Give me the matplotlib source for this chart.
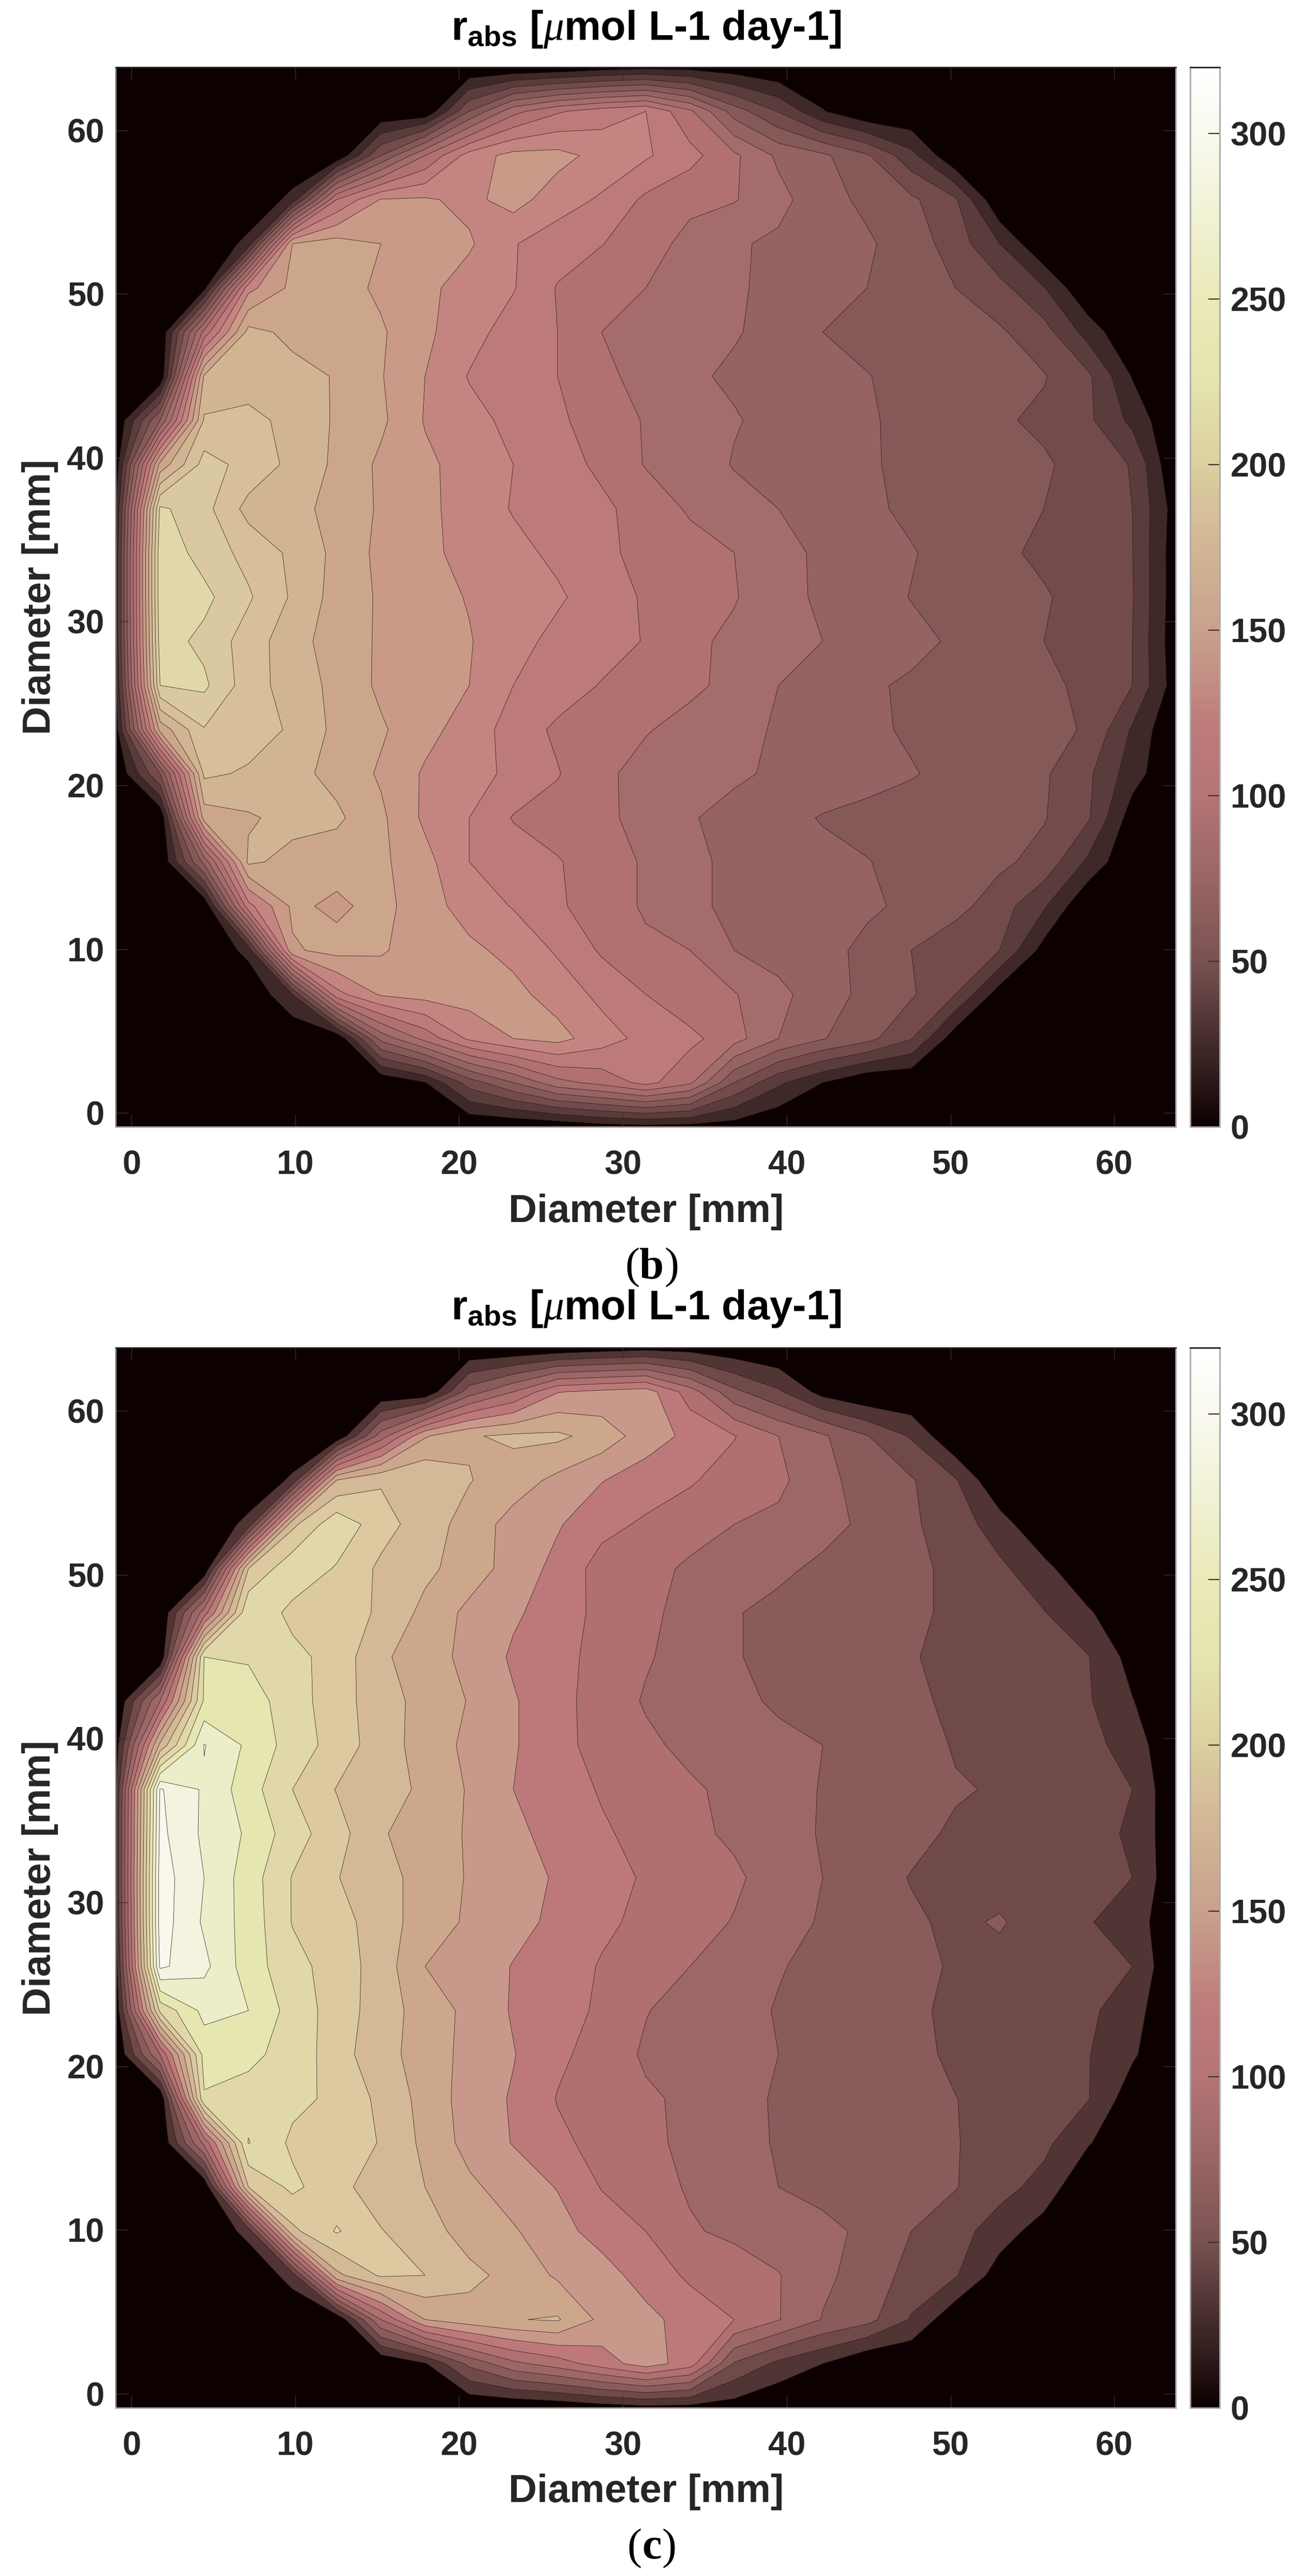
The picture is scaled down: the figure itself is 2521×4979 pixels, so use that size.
import numpy as np
import matplotlib
matplotlib.use("Agg")
import matplotlib.pyplot as plt
from matplotlib.colors import LinearSegmentedColormap, Normalize
from matplotlib.cm import ScalarMappable

W, H = 2521, 4979
DPI = 100
plt.rcParams['font.family'] = ['Liberation Sans', 'DejaVu Sans']
plt.rcParams['mathtext.fontset'] = 'custom'
plt.rcParams['mathtext.rm'] = 'Liberation Sans:bold'
plt.rcParams['mathtext.bf'] = 'Liberation Sans:bold'
plt.rcParams['mathtext.it'] = 'Liberation Serif:italic'
plt.rcParams['mathtext.default'] = 'regular'

# node coordinates of the measurement grid [mm]
GRID_X = [-0.95, 1.75, 4.44, 7.14, 9.83, 12.53, 15.23, 17.92, 20.62, 23.31, 26.01, 28.7, 31.4,
          34.1, 36.8, 39.5, 42.2, 44.9, 47.6, 50.3, 53.0, 55.7, 58.4, 61.1, 63.75]
GRID_Y = [-0.85, 1.85, 4.54, 7.24, 9.93, 12.63, 15.33, 18.02, 20.72, 23.4, 26.1, 28.8, 31.5,
          34.2, 36.89, 39.59, 42.29, 44.98, 47.68, 50.37, 53.07, 55.77, 58.46, 61.16, 63.85]

# panel (b) values, bottom row first
RABS_B = [
 [0,0,0,0,0,0,0,0,0,0,2,8,10,9,7,0,0,0,0,0,0,0,0,0,0],
 [0,0,0,0,0,0,0,14,52,75,100,110,125,108,60,33,15,0,0,0,0,0,0,0,0],
 [0,0,0,0,0,0,80,110,138,150,155,142,130,124,111,90,76,65,46,5,0,0,0,0,0],
 [0,0,0,0,30,130,152,156,157,154,144,131,120,109,106,94,82,71,62,45,7,0,0,0,0],
 [0,0,0,20,163,170,167,156,153,146,133,118,108,105,90,84,79,72,60,50,45,9,0,0,0],
 [0,0,0,130,168,162,170,156,144,134,122,113,103,93,87,83,80,77,72.5,65,52,32,0,0,0],
 [0,0,80,183,175,171,168,155,135,128,121,113,103,93,87,83,79,75.5,71,67,63,55,27,0,0],
 [0,0,172,178,185,183,168,147,135,119,114,109,99,91,86,80,74,71,69,67,64,61,47,7,0],
 [0,60,198,193,185,175,163,148,140,132,121,108,100,95,92,88,84,80,76,71,66,62,48,22,0],
 [8,170,209,202,193,176,167,155,143,129,117,112,106,100,94,88.6,83,78,73,70,66,63,59,28,0],
 [15,225,228,202,188,176,162,156,150,135,128,119,112,108,101,90,84,77,73,69,66,62,58,45,7],
 [20,232,221,203,186,173,163,157,151,140,131,127,119,108,102,96,90,85,79,73,66.5,60,53,45,5],
 [20,235,229,212,193,174,163,156,149,142,137,128,118,112,106,96,87,81,74.5,70,66,61.5,54,46,6],
 [20,235,219,205,192,176,161,153,146,139,132,123,116,111,105,96,86.5,81,76,69.6,63,57,51,45.5,6],
 [15,228,215,190,185,175,163,154,143,134,129,123,114,103,96,90,84,78,72,66,62,60,52,45,8],
 [5,170,216,205,191,177,162,153,144,135,126,117,104,98,89,84,80,76,73,69,65,62,54,44,0],
 [0,75,197,199,191,178,168,149,140,131,123,112,104,97,91,86,81.5,76.5,71.5,67,62,57,48,26,0],
 [0,0,182,188,185,179,166,150,134,128,120,110,98,92,88,84,79.5,75.5,71,68,64.5,61,48,14,0],
 [0,0,110,185,176,168,167,153,141,128,120,105,100,96,91,86,75,71,68,65,62,51,24,0,0],
 [0,0,10,145,169,172,162,154,143,136,119,111,105,99,92,86,80,75,68,60,50,31,0,0,0],
 [0,0,0,20,165,172,165,158,152,136,127,120.5,112,100,92,87,82,77,68,53,30,0,0,0,0],
 [0,0,0,0,20,120,151,152,146,156,142,133,117,109,106,95,80,72,63,47,0,0,0,0,0],
 [0,0,0,0,0,0,60,105,142,155,155,145,137,125,108,87,78,62,35,0,0,0,0,0,0],
 [0,0,0,0,0,0,0,0,60,100,118,128,135,108,68,44,16,0,0,0,0,0,0,0,0],
 [0,0,0,0,0,0,0,0,0,0,2,7,10,9,5,0,0,0,0,0,0,0,0,0,0],
]

# panel (c) values, bottom row first
RABS_C = [
 [0,0,0,0,0,0,0,0,0,0,3,9,13,12,10,0,0,0,0,0,0,0,0,0,0],
 [0,0,0,0,0,0,0,18,65,95,110,130,150,130,58,35,20,0,0,0,0,0,0,0,0],
 [0,0,0,0,0,0,100,160,172,179,182,155,147,130,120,101,79,67,38,4,0,0,0,0,0],
 [0,0,0,0,29,175,203,200,185,174,157,150,130,117,110,101,84,72,53,42,10,0,0,0,0],
 [0,0,0,27,195,222,201,188,172,162,148,131,120,102,96,90,84,77,60,48,30,10,0,0,0],
 [0,0,0,200,225,206,190,180,164,151,139,119,108,98,91,80,75.5,71,66,61,47,33,0,0,0],
 [0,0,106,241,216,210,199,175,153,139,124,114,105,95,88,78,74,70,66,61,52,45,22,0,0],
 [0,0,238,232,225,216,195,173,151,138,119,112,103,96,89,77,73,68.7,64.5,60.4,53.5,47.5,41,8,0],
 [0,100,248,245,232,210,185,174,152,141,124,112,97,90,85,80,76,72,66,56,52,47,41,23,0],
 [5,225,266,260,232,211,190,171,155,138,130,116,101,91,85,79,74,69,63.5,56,51,47,44,29,0],
 [12,304,285,250,227,211,191,160,152,139,133,118,110,100,92,81,76,71,65,58,54,50,45,40,0],
 [20,310,277,252,219,208,190,170,157,147,135,125,114,107,99,88,78,71,63,56,62,50,41,33,0],
 [22,310,280,250,219,201,186,174,158,148,138,127,118,109,103,92,80,69,59,56,52,49,45,40,4],
 [22,305,276,257,229,208,182,170,158,144,134,123,113,104,97,90,78,74.5,65.5,57,52.4,47.9,43.2,38.7,3],
 [20,302,277,249,220,199,189,176,158,140,131,118,109,103,95,87,79,73,68,62,58,54.5,50,40,2],
 [10,185,281,256,231,212,189,172,155,142,126,113,104,95,89,85,80,76,71,58,54,51,46,32,0],
 [0,100,243,249,230,208,190,172,159,142,126,112,98,93,85,77,72,67,62,58,54,50,42,21,0],
 [0,0,240,238,226,212,184,168,155,137,128,112,102,92,81,76,72,68,61,56,52,48,41,12,0],
 [0,0,110,238,214,207,198,174,155,143,131,114,104,94,81,76,71,67,62,58,54,41,23,0,0],
 [0,0,0,200,235,218,196,185,170,152,134,112,108,96,90,83,77,72,66,54,44,27,0,0,0],
 [0,0,0,27,195,235,208,190,172,152,142,126,117,110,100,95,85,77,63,50,30,0,0,0,0],
 [0,0,0,0,24,180,198,199,181,170,155,141,130,122,112,105,85,73,62,42,0,0,0,0,0],
 [0,0,0,0,0,0,90,158,178,184,184,172,150,135,121,100,83,61,38,0,0,0,0,0,0],
 [0,0,0,0,0,0,0,0,70,100,139,145,150,110,65,43,12,0,0,0,0,0,0,0,0],
 [0,0,0,0,0,0,0,0,0,0,3,8,12,10,5,0,0,0,0,0,0,0,0,0,0],
]

LEVELS_B = [15, 30, 45, 60, 75, 90, 105, 120, 135, 150, 165, 180, 195, 210, 225]
LEVELS_C = [20, 40, 60, 80, 100, 120, 140, 160, 180, 200, 220, 240, 260, 280, 300]
BANDS_B = ['#3f2828', '#5a3c3c', '#734b4b', '#865959', '#956363', '#a56c6c', '#b17171', '#bd7a7a',
           '#c48580', '#c99a87', '#cca68b', '#d1b492', '#d6bf99', '#dac9a0', '#e0d8a9']
BANDS_C = ['#513434', '#704949', '#8a5b5b', '#9d6767', '#b07070', '#bd7979', '#c8998a', '#cda78b',
           '#d3b996', '#dcc9a0', '#e0d8a9', '#e5e6b0', '#ecedc9', '#f3f3e0', '#f8f8ec']

TICKS = [0, 10, 20, 30, 40, 50, 60]
CBAR_TICKS = [0, 50, 100, 150, 200, 250, 300]
CMAP_STOPS = [(0, '#0d0000'), (15, '#2f1c1c'), (25, '#432b2b'), (50, '#7a5252'), (75, '#9a6666'),
              (100, '#b57575'), (120, '#bd7a7a'), (150, '#c9a18d'), (175, '#d2b595'), (200, '#dccfa0'),
              (225, '#e4e4af'), (250, '#eaeab8'), (275, '#f1f1d4'), (300, '#f9f9ee'), (320, '#ffffff')]
CMAX = 320

cmap = LinearSegmentedColormap.from_list('rabs', [(v / CMAX, c) for v, c in CMAP_STOPS], N=256)
INK = '#262626'
TICK_PT = 65 * 0.72
LABEL_PT = 76 * 0.72
TITLE_PT = 79.5 * 0.72
PANEL_PT = 85 * 0.72

fig = plt.figure(figsize=(W / DPI, H / DPI), dpi=DPI, facecolor='white')


def px_axes(x0, y0, x1, y1):
    return fig.add_axes([x0 / W, 1 - y1 / H, (x1 - x0) / W, (y1 - y0) / H])


def panel(values, levels, bands, top, bottom, title_base, letter, letter_y, xlabel_y):
    ax = px_axes(224, top, 2273, bottom)
    ax.set_facecolor('#0d0000')
    z = np.array(values, dtype=float)
    lv = list(levels) + [400]
    cf = ax.contourf(GRID_X, GRID_Y, z, levels=lv, colors=bands, antialiased=True)
    cf.set_edgecolor('face')
    cf.set_linewidth(0.3)
    ax.contour(GRID_X, GRID_Y, z, levels=levels, colors='#241414', linewidths=0.6, alpha=0.85)
    ax.set_xlim(-0.95, 63.75)
    ax.set_ylim(-0.85, 63.85)
    ax.set_xticks(TICKS)
    ax.set_yticks(TICKS)
    ax.tick_params(axis='both', direction='in', length=17, width=1.0, color='#3a3030',
                   top=True, right=True, labelsize=TICK_PT, labelcolor=INK)
    ax.tick_params(axis='x', pad=32)
    ax.tick_params(axis='y', pad=16)
    for t in ax.get_xticklabels() + ax.get_yticklabels():
        t.set_fontweight('bold')
    for side, col in (('left', '#6e6868'), ('bottom', '#a8a4a4'), ('right', '#aaaaaa'), ('top', '#262020')):
        ax.spines[side].set_color(col)
        ax.spines[side].set_linewidth(2.0)

    cax = px_axes(2301, top, 2358, bottom)
    cb = fig.colorbar(ScalarMappable(norm=Normalize(0, CMAX), cmap=cmap), cax=cax)
    cb.set_ticks(CBAR_TICKS)
    cax.tick_params(direction='in', length=16, width=1.6, color='#3a3030', pad=15,
                    labelsize=TICK_PT, labelcolor=INK)
    for t in cax.get_yticklabels():
        t.set_fontweight('bold')
    cb.outline.set_edgecolor('#a8a8a8')
    cb.outline.set_linewidth(2.0)
    fig.add_artist(plt.Line2D([2301 / W, 2358 / W], [1 - top / H] * 2, color='#262020', lw=2.0))

    fig.text(1249 / W, 1 - title_base / H, r'r$_{\mathbf{abs}}$ [$\mathit{\mu}$mol L-1 day-1]',
             ha='center', va='baseline', fontsize=TITLE_PT, fontweight='bold', color='black')
    fig.text(1249 / W, 1 - xlabel_y / H, 'Diameter [mm]', ha='center', va='center',
             fontsize=LABEL_PT, fontweight='bold', color=INK)
    fig.text(78 / W, 1 - (top + bottom) / 2 / H, 'Diameter [mm]', ha='center', va='center',
             rotation=90, fontsize=LABEL_PT, fontweight='bold', color=INK)
    half = 24 if letter == 'b' else 19
    fig.text((1260 - half) / W, 1 - letter_y / H, '(', ha='right', va='center', family='Liberation Serif',
             fontsize=PANEL_PT, color='black')
    fig.text(1260 / W, 1 - letter_y / H, letter, ha='center', va='center', family='Liberation Serif',
             fontsize=PANEL_PT, fontweight='bold', color='black')
    fig.text((1260 + half) / W, 1 - letter_y / H, ')', ha='left', va='center', family='Liberation Serif',
             fontsize=PANEL_PT, color='black')


panel(RABS_B, LEVELS_B, BANDS_B, 130, 2178, 77, 'b', 2450, 2343)
panel(RABS_C, LEVELS_C, BANDS_C, 2605, 4654, 2550, 'c', 4925, 4817)

fig.savefig('out.png', dpi=DPI, facecolor='white')
